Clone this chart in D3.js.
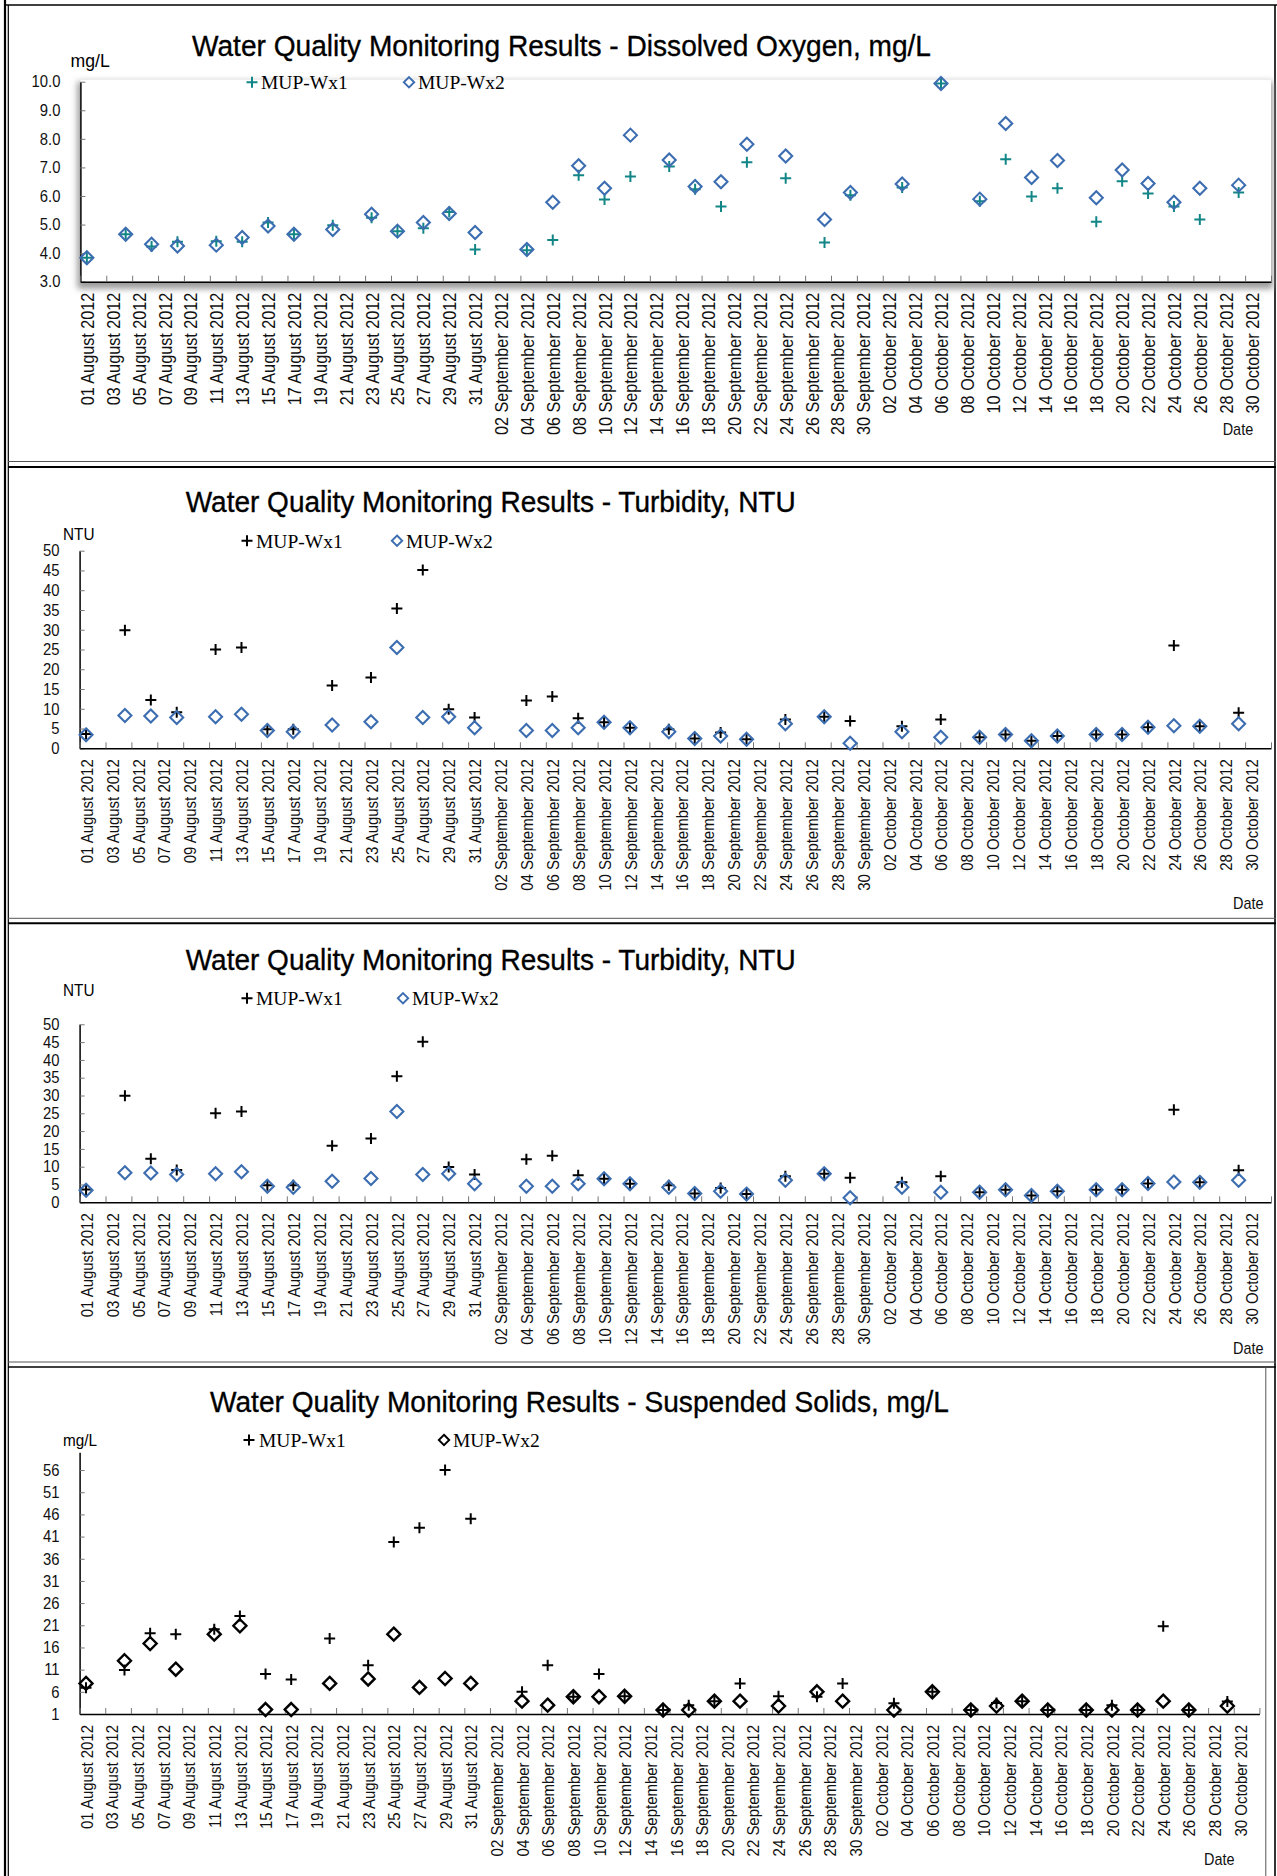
<!DOCTYPE html>
<html><head><meta charset="utf-8">
<script src="https://cdn.jsdelivr.net/npm/d3@7"></script>
<style>
html,body{margin:0;padding:0;background:#fff;}
svg{display:block;}
</style></head>
<body>
<svg id="chart" width="1277" height="1876"></svg>
<script>
// ---------------- DATA ----------------
const sampleDates = ["2012-08-01","2012-08-04","2012-08-06","2012-08-08","2012-08-11","2012-08-13","2012-08-15","2012-08-17","2012-08-20","2012-08-23","2012-08-25","2012-08-27","2012-08-29","2012-08-31","2012-09-04","2012-09-06","2012-09-08","2012-09-10","2012-09-12","2012-09-15","2012-09-17","2012-09-19","2012-09-21","2012-09-24","2012-09-27","2012-09-29","2012-10-03","2012-10-06","2012-10-09","2012-10-11","2012-10-13","2012-10-15","2012-10-18","2012-10-20","2012-10-22","2012-10-24","2012-10-26","2012-10-29"];
const axisDateRange = ["2012-08-01","2012-11-01"];
const seriesNames = ["MUP-Wx1","MUP-Wx2"];
const titles = [
  "Water Quality Monitoring Results - Dissolved Oxygen, mg/L",
  "Water Quality Monitoring Results - Turbidity, NTU",
  "Water Quality Monitoring Results - Turbidity, NTU",
  "Water Quality Monitoring Results - Suspended Solids, mg/L"
];
const unitLabels = ["mg/L","NTU","NTU","mg/L"];
const xAxisTitle = "Date";

const doWx1 = [3.84,4.66,4.23,4.40,4.42,4.40,5.07,4.66,4.98,5.24,4.77,4.87,5.44,4.13,4.10,4.46,6.73,5.88,6.68,7.03,6.24,5.63,7.18,6.62,4.37,6.03,6.30,9.94,5.82,7.29,5.98,6.27,5.10,6.52,6.09,5.63,5.18,6.12];
const doWx2 = [3.84,4.66,4.31,4.25,4.28,4.55,4.95,4.66,4.83,5.36,4.77,5.07,5.39,4.72,4.13,5.78,7.06,6.27,8.13,7.26,6.33,6.50,7.81,7.40,5.18,6.12,6.42,9.94,5.89,8.54,6.65,7.24,5.94,6.91,6.44,5.78,6.27,6.38];

const turbWx1 = [3.6,29.9,12.2,9.1,25.0,25.5,4.8,4.8,15.9,17.9,35.4,45.1,9.9,7.8,12.1,13.1,7.6,6.6,5.2,4.8,2.5,4.0,2.3,7.3,8.0,6.9,5.6,7.3,2.8,3.5,1.9,3.1,3.5,3.5,5.3,26.0,5.6,9.0];
const turbWx2 = [3.4,8.3,8.2,7.8,8.0,8.6,4.5,4.2,5.9,6.7,25.5,7.8,8.0,5.2,4.5,4.5,5.2,6.6,5.2,4.2,2.5,3.1,2.3,6.2,8.0,1.3,4.2,2.8,2.8,3.5,1.9,3.1,3.5,3.5,5.3,5.7,5.6,6.2];

const ssWx1 = [6.9,10.9,19.2,19.0,20.1,23.1,10.0,8.8,18.0,12.0,39.8,43.0,56.0,45.0,6.0,12.0,4.9,10.0,5.0,1.9,3.0,3.9,7.9,5.0,4.9,7.9,3.4,6.0,1.9,3.5,3.9,1.9,1.9,3.0,1.9,20.8,1.9,3.8];
const ssWx2 = [7.9,13.0,16.9,11.1,19.0,20.9,2.0,2.0,7.9,8.9,19.0,7.0,9.0,7.9,3.9,3.0,4.9,4.9,5.0,1.9,1.9,3.9,3.9,2.8,6.0,3.9,1.9,6.0,1.9,2.8,3.9,1.9,1.9,1.9,1.9,3.9,1.9,2.8];

const doDomain = [3,10];
const doTicks = [3,4,5,6,7,8,9,10];
const turbDomain = [0,50];
const turbTicks = [0,5,10,15,20,25,30,35,40,45,50];
const ssDomain = [1,60];
const ssTicks = [1,6,11,16,21,26,31,36,41,46,51,56];

// ---------------- STYLE / LAYOUT ----------------
const TEAL = "#128686", BLUE = "#3c6db0", BLACK = "#000";
const SANS = "'Liberation Sans', Arial, sans-serif";
const SERIF = "'Liberation Serif', 'Times New Roman', serif";

const panels = [
  { title: titles[0], unit: unitLabels[0], s1: doWx1, s2: doWx2, domain: doDomain, ticks: doTicks, fmt: d3.format(".1f"),
    x0: 80.4, x1: 1271, yTop: 81.7, yBot: 281.7,
    titleX: 192, titleY: 55.5, titleLen: 739, titleSize: 30,
    unitX: 70.5, unitY: 67, unitSize: 18, unitFactor: 0.98,
    legY: 82.3, leg1X: 252, leg1T: 261, leg2X: 409, leg2T: 418,
    dateX: 1222.7, dateY: 435,
    lblSize: 18, lblFactor: 0.9, c1: TEAL, c2: BLUE, shadow: true },
  { title: titles[1], unit: unitLabels[1], s1: turbWx1, s2: turbWx2, domain: turbDomain, ticks: turbTicks, fmt: d3.format("d"),
    x0: 79.6, x1: 1271, yTop: 550.7, yBot: 748.3,
    titleX: 185.7, titleY: 511.7, titleLen: 610, titleSize: 29,
    unitX: 63, unitY: 540, unitSize: 17, unitFactor: 0.9,
    legY: 540.7, leg1X: 247, leg1T: 256, leg2X: 397, leg2T: 406,
    dateX: 1233, dateY: 909,
    lblSize: 17, lblFactor: 0.88, c1: BLACK, c2: BLUE, shadow: false },
  { title: titles[2], unit: unitLabels[2], s1: turbWx1, s2: turbWx2, domain: turbDomain, ticks: turbTicks, fmt: d3.format("d"),
    x0: 79.6, x1: 1271, yTop: 1024.3, yBot: 1202.3,
    titleX: 185.7, titleY: 970, titleLen: 610, titleSize: 30,
    unitX: 63, unitY: 996, unitSize: 17, unitFactor: 0.9,
    legY: 998.3, leg1X: 247, leg1T: 256, leg2X: 403, leg2T: 412,
    dateX: 1233, dateY: 1354,
    lblSize: 17, lblFactor: 0.88, c1: BLACK, c2: BLUE, shadow: false },
  { title: titles[3], unit: unitLabels[3], s1: ssWx1, s2: ssWx2, domain: ssDomain, ticks: ssTicks, fmt: d3.format("d"),
    x0: 79.6, x1: 1259.4, yTop: 1452.3, yBot: 1714,
    titleX: 210, titleY: 1411.7, titleLen: 739, titleSize: 30,
    unitX: 63, unitY: 1446, unitSize: 17, unitFactor: 0.9,
    legY: 1440, leg1X: 249, leg1T: 259, leg2X: 444, leg2T: 453,
    dateX: 1204, dateY: 1865,
    lblSize: 17, lblFactor: 0.88, c1: BLACK, c2: BLACK, shadow: false }
];

// ---------------- DRAW ----------------
const svg = d3.select("#chart");
const parse = d3.utcParse("%Y-%m-%d");
const dates = sampleDates.map(parse);
const axisStart = parse(axisDateRange[0]), axisEnd = parse(axisDateRange[1]);
const noon = d => d3.utcHour.offset(d, 12);
const labelDates = d3.utcDay.range(axisStart, axisEnd, 2).map(noon);
const tickDates = d3.utcDay.range(axisStart, d3.utcDay.offset(axisEnd, 1), 2);
const fmtDate = d3.utcFormat("%d %B %Y");

function squeeze(sel, f) {
  sel.each(function() {
    const L = this.getComputedTextLength();
    this.setAttribute("textLength", (L * f).toFixed(2));
    this.setAttribute("lengthAdjust", "spacingAndGlyphs");
  });
}
const plusPath = "M-5.5,0H5.5M0,-5.5V5.5";
const diamondPath = "M0,-6.5L6.5,0L0,6.5L-6.5,0Z";

const defs = svg.append("defs");
const filt = defs.append("filter").attr("id","shadow").attr("x","-5%").attr("y","-20%").attr("width","110%").attr("height","140%");
filt.append("feGaussianBlur").attr("stdDeviation", 3);

svg.append("rect").attr("width",1277).attr("height",1876).attr("fill","#fff");

// frames
const frame = svg.append("g").attr("fill","none");
frame.append("line").attr("x1",5).attr("x2",5).attr("y1",0).attr("y2",1876).attr("stroke","#000").attr("stroke-width",2.2);
frame.append("line").attr("x1",8.3).attr("x2",8.3).attr("y1",5).attr("y2",1876).attr("stroke","#000").attr("stroke-width",1.2);
frame.append("line").attr("x1",4).attr("x2",1277).attr("y1",5).attr("y2",5).attr("stroke","#000").attr("stroke-width",1.3);
frame.append("line").attr("x1",1275).attr("x2",1275).attr("y1",5).attr("y2",1876).attr("stroke","#000").attr("stroke-width",1.6);
[[461.5,"#555",1],[467,"#000",1.8],[918.3,"#555",1],[923.3,"#000",2],[1362,"#555",1],[1367,"#000",1.6]].forEach(([y,c,w]) => {
  frame.append("line").attr("x1",8).attr("x2",1276).attr("y1",y).attr("y2",y).attr("stroke",c).attr("stroke-width",w);
});
frame.append("line").attr("x1",1265.8).attr("x2",1265.8).attr("y1",1367).attr("y2",1876).attr("stroke","#555").attr("stroke-width",1);

panels.forEach(p => {
  const g = svg.append("g");
  const x = d3.scaleUtc().domain([axisStart, axisEnd]).range([p.x0, p.x1]);
  const y = d3.scaleLinear().domain(p.domain).range([p.yBot, p.yTop]);

  if (p.shadow) {
    g.append("rect").attr("x", p.x0 - 3).attr("y", p.yTop).attr("width", p.x1 - p.x0 + 5).attr("height", p.yBot - p.yTop + 7)
      .attr("fill","#9a9a9a").attr("filter","url(#shadow)");
    g.append("rect").attr("x", p.x0).attr("y", p.yTop - 2).attr("width", p.x1 - p.x0).attr("height", p.yBot - p.yTop + 2).attr("fill","#fff");
  }

  // title
  g.append("text").attr("x", p.titleX).attr("y", p.titleY)
    .attr("font-family", SANS).attr("font-size", p.titleSize).attr("fill","#000")
    .attr("stroke","#000").attr("stroke-width",0.35)
    .attr("textLength", p.titleLen).attr("lengthAdjust","spacingAndGlyphs").text(p.title);

  // unit label
  const ut = g.append("text").attr("x", p.unitX).attr("y", p.unitY)
    .attr("font-family", SANS).attr("font-size", p.unitSize).attr("fill","#000").text(p.unit);
  squeeze(ut, p.unitFactor);

  // legend
  const leg = g.append("g");
  leg.append("path").attr("d", plusPath).attr("transform", `translate(${p.leg1X},${p.legY})`)
    .attr("stroke", p.c1).attr("stroke-width", 2).attr("fill","none");
  leg.append("text").attr("x", p.leg1T).attr("y", p.legY + 7).attr("font-family", SERIF).attr("font-size", 19.5).text(seriesNames[0]);
  leg.append("path").attr("d", diamondPath).attr("transform", `translate(${p.leg2X},${p.legY}) scale(0.8)`)
    .attr("stroke", p.c2).attr("stroke-width", 2.4).attr("fill","none");
  leg.append("text").attr("x", p.leg2T).attr("y", p.legY + 7).attr("font-family", SERIF).attr("font-size", 19.5).text(seriesNames[1]);

  // y axis
  const yAxis = d3.axisLeft(y).tickValues(p.ticks).tickSizeInner(-5).tickSizeOuter(0).tickPadding(20).tickFormat(p.fmt);
  const gy = g.append("g").attr("transform", `translate(${p.x0},0)`).call(yAxis);
  gy.attr("font-family", SANS).attr("font-size", 16.5);
  gy.select(".domain").attr("stroke","#000").attr("stroke-width",1.5);
  gy.selectAll(".tick line").attr("stroke","#777").attr("stroke-width",1);
  gy.selectAll(".tick text").attr("fill","#111");
  squeeze(gy.selectAll(".tick text"), 0.9);

  // x axis ticks
  const xTickAxis = d3.axisBottom(x).tickValues(tickDates).tickSizeInner(-6).tickSizeOuter(0).tickFormat("");
  const gx = g.append("g").attr("transform", `translate(0,${p.yBot})`).call(xTickAxis);
  gx.select(".domain").attr("stroke","#000").attr("stroke-width",1.5);
  gx.selectAll(".tick line").attr("stroke","#777").attr("stroke-width",1);

  // x axis labels
  const xLabelAxis = d3.axisBottom(x).tickValues(labelDates).tickSize(0).tickPadding(0).tickFormat(fmtDate);
  const gl = g.append("g").attr("transform", `translate(0,${p.yBot})`).call(xLabelAxis);
  gl.select(".domain").remove();
  gl.attr("font-family", SANS).attr("font-size", p.lblSize);
  gl.selectAll(".tick text")
    .attr("transform","rotate(-90)").attr("text-anchor","end")
    .attr("x", -11).attr("y", 0).attr("dy","0.36em").attr("fill","#111");
  squeeze(gl.selectAll(".tick text"), p.lblFactor);

  // axis title
  const dt = g.append("text").attr("x", p.dateX).attr("y", p.dateY)
    .attr("font-family", SANS).attr("font-size", 17).attr("fill","#111").text(xAxisTitle);
  squeeze(dt, 0.85);

  // series 1: plus markers
  g.append("g").selectAll("path").data(p.s1).join("path")
    .attr("d", plusPath)
    .attr("transform", (v,i) => `translate(${x(noon(dates[i]))},${y(v)})`)
    .attr("stroke", p.c1).attr("stroke-width", 2).attr("fill","none");
  // series 2: diamond markers
  g.append("g").selectAll("path").data(p.s2).join("path")
    .attr("d", diamondPath)
    .attr("transform", (v,i) => `translate(${x(noon(dates[i]))},${y(v)})`)
    .attr("stroke", p.c2).attr("stroke-width", p.c2 === BLACK ? 2.4 : 2.1).attr("fill","none");
});
</script>
</body></html>
